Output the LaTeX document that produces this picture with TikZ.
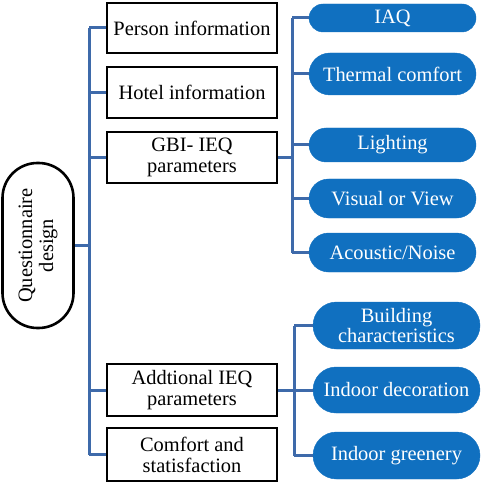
\documentclass[tikz,border=0pt]{standalone}
\usepackage{fontspec}
\setmainfont{Liberation Serif}
\usetikzlibrary{shapes.misc}

\definecolor{linkblue}{RGB}{62,106,170}
\definecolor{pillblue}{RGB}{16,112,192}

\begin{document}
\begin{tikzpicture}[x=1bp, y=1bp,
    every node/.style={font=\fontsize{20.5}{21}\selectfont, align=center, inner sep=0pt},
    infobox/.style={draw=black, line width=2.4bp, fill=white, rectangle, minimum width=170bp},
    pill/.style={fill=pillblue, draw=pillblue, text=white, rounded rectangle, minimum width=167bp},
    link/.style={draw=linkblue, line width=3bp}
    ]

    % Page size
    \useasboundingbox (0,0) rectangle (484,-483);

    % Column positions
    \def\xbox{192}     % centre of the black boxes
    \def\xtop{392.5}   % centre of the upper pills
    \def\xbot{396.5}   % centre of the lower pills

    % Root
    \node[draw=black, line width=2.6bp, rectangle, rounded corners=35bp,
          minimum width=165bp, minimum height=71bp, rotate=90] (root) at (38,-245.5)
          {Questionnaire\\design};

    % Main branches
    \node[infobox, minimum height=50bp] (pers)  at (\xbox,-28)    {Person information};
    \node[infobox, minimum height=51bp] (hotel) at (\xbox,-92.5)  {Hotel information};
    \node[infobox, minimum height=51bp] (gbi)   at (\xbox,-157.5) {GBI- IEQ\\parameters};
    \node[infobox, minimum height=52bp] (addt)  at (\xbox,-390)   {Addtional IEQ\\parameters};
    \node[infobox, minimum height=53bp] (comf)  at (\xbox,-454.5) {Comfort and\\statisfaction};

    % GBI-IEQ items
    \node[pill, minimum height=28bp] (iaq)   at (\xtop,-18)    {IAQ};
    \node[pill, minimum height=42bp] (therm) at (\xtop,-74)    {Thermal comfort};
    \node[pill, minimum height=34bp] (light) at (\xtop,-145)   {Lighting};
    \node[pill, minimum height=39bp] (vis)   at (\xtop,-198.5) {Visual or View};
    \node[pill, minimum height=39bp] (acou)  at (\xtop,-252.5) {Acoustic/Noise};

    % Additional items
    \node[pill, minimum height=47bp] (build) at (\xbot,-325.5) {Building\\characteristics};
    \node[pill, minimum height=46bp] (deco)  at (\xbot,-390)   {Indoor decoration};
    \node[pill, minimum height=47bp] (green) at (\xbot,-455.5) {Indoor greenery};

    % Trunks
    \coordinate (tk)  at (89,0);
    \coordinate (tkg) at (292,0);
    \coordinate (tka) at (294,0);

    % Main trunk
    \draw[link] (root.south) -- (root.south -| tk);
    \draw[link] (pers.west -| tk) -- (comf.west -| tk);
    \foreach \n in {pers,hotel,gbi,addt,comf}{
        \draw[link] (\n.west -| tk) -- (\n.west);
    }

    % GBI-IEQ trunk
    \draw[link] (gbi.east) -- (gbi.east -| tkg);
    \draw[link] (iaq.west -| tkg) -- (acou.west -| tkg);
    \foreach \n in {iaq,therm,light,vis,acou}{
        \draw[link] (\n.west -| tkg) -- (\n.west);
    }

    % Additional trunk
    \draw[link] (addt.east) -- (addt.east -| tka);
    \draw[link] (build.west -| tka) -- (green.west -| tka);
    \foreach \n in {build,deco,green}{
        \draw[link] (\n.west -| tka) -- (\n.west);
    }

\end{tikzpicture}
\end{document}
